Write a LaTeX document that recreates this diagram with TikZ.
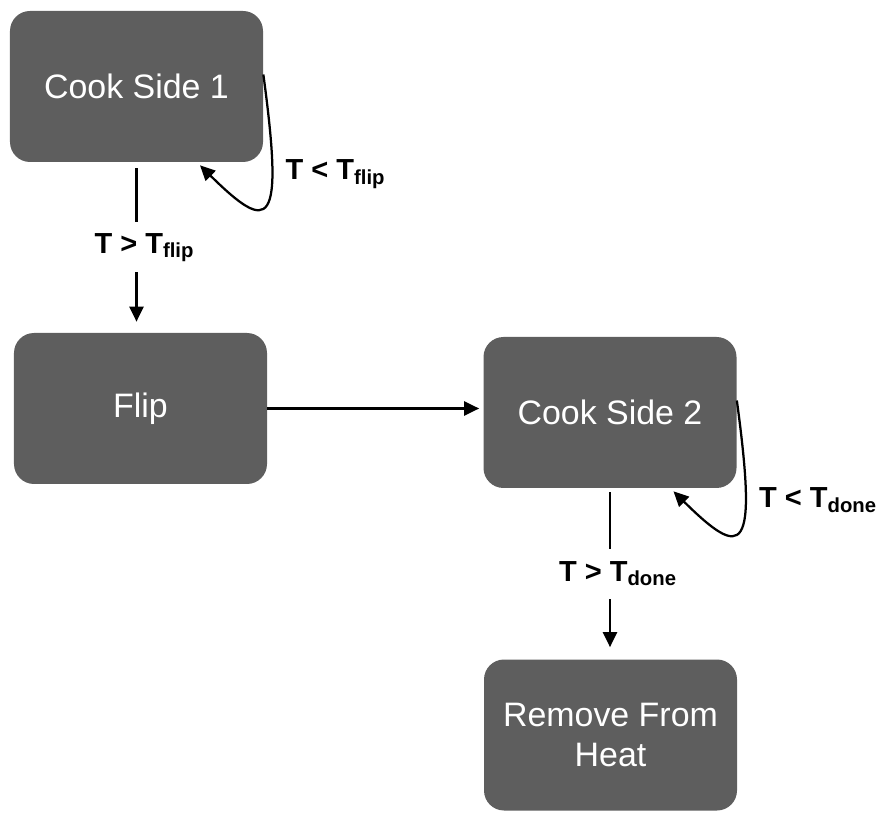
\documentclass[tikz,border=0pt]{standalone}
\usepackage{fontspec}
\setmainfont{Liberation Sans}
\usetikzlibrary{arrows.meta,positioning,calc}
\definecolor{boxgray}{RGB}{94,94,94}
\tikzset{
  state/.style={rectangle,rounded corners=0.4cm,fill=boxgray,text=white,
                minimum width=5.06cm,minimum height=3.02cm,align=center,
                font=\fontsize{19.3}{23}\selectfont},
  arrow/.style={-{Triangle[length=0.3cm,width=0.28cm]},line width=0.045cm,black},
  cond/.style={fill=white,minimum height=1cm,inner xsep=2pt,xshift=0.16cm,
               font=\fontsize{16.5}{19}\selectfont\bfseries},
  loopcond/.style={anchor=west,inner sep=0pt,
                   font=\fontsize{16.5}{19}\selectfont\bfseries},
}

\begin{document}
\begin{tikzpicture}
  \useasboundingbox (0,0) rectangle (17.8,-16.4);

  \node[state] (side1) at (2.73,-1.73)  {Cook Side 1};
  \node[state] (flip)  at (2.81,-8.17)  {Flip};
  \node[state] (side2) at (12.2,-8.25)  {Cook Side 2};
  \node[state] (heat)  at (12.21,-14.7) {Remove From\\Heat};

  \draw[arrow,shorten <=0.12cm,shorten >=0.22cm]
    (side1.south) -- node[cond] {T > T\textsubscript{flip}} (side1.south |- flip.north);
  \draw[arrow,shorten >=0.08cm] (flip.east) -- (flip.east -| side2.west);
  \draw[arrow,shorten <=0.08cm,shorten >=0.24cm]
    (side2.south) -- node[cond] {T > T\textsubscript{done}} (side2.south |- heat.north);

  % waiting loops
  \foreach \s/\t in {side1/flip,side2/done}{
    \draw[arrow] ([yshift=0.24cm]\s.east) .. controls +(0.42,-3.1) and +(1.4,-1.38)
      .. ([xshift=1.27cm,yshift=-0.06cm]\s.south);
    \node[loopcond] (lbl\s) at ([xshift=0.44cm,yshift=-0.24cm]\s.south east)
      {T < T\textsubscript{\t}};
  }
\end{tikzpicture}
\end{document}
